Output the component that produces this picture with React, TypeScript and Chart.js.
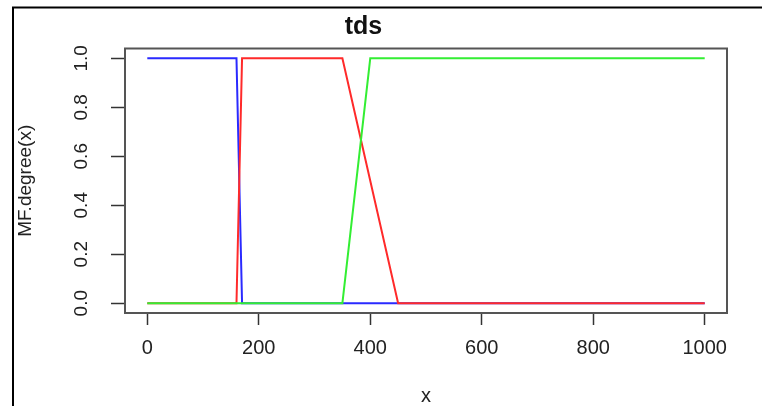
import React, { useEffect, useRef } from "react";
import { Chart, registerables } from "chart.js";

Chart.register(...registerables);

const titleText = "tds";
const xTitle = "x";
const yTitle = "MF.degree(x)";

const xTicks = [0, 200, 400, 600, 800, 1000];
const yTicks = [0, 0.2, 0.4, 0.6, 0.8, 1.0];

const blueX = [0, 160, 170, 1000];
const blueY = [1, 1, 0, 0];

const redX = [0, 160, 170, 350, 450, 1000];
const redY = [0, 0, 1, 1, 0, 0];

const greenX = [0, 350, 400, 1000];
const greenY = [0, 0, 1, 1];

const FONT = "'Liberation Sans', Arial, sans-serif";

const toPoints = (xs: number[], ys: number[]) => xs.map((x, i) => ({ x, y: ys[i] }));

const framePlugin = {
  id: "framePlugin",
  beforeDraw(chart: any) {
    const { ctx, width, height } = chart;
    ctx.save();
    ctx.fillStyle = "#ffffff";
    ctx.fillRect(0, 0, width, height);
    ctx.strokeStyle = "#000000";
    ctx.lineWidth = 2;
    ctx.beginPath();
    ctx.moveTo(13, height);
    ctx.lineTo(13, 7.5);
    ctx.lineTo(width, 7.5);
    ctx.stroke();
    ctx.restore();
  },
  afterDraw(chart: any) {
    const { ctx, chartArea } = chart;
    ctx.save();
    ctx.strokeStyle = "#555555";
    ctx.lineWidth = 2;
    ctx.strokeRect(chartArea.left, chartArea.top, chartArea.right - chartArea.left, chartArea.bottom - chartArea.top);
    ctx.restore();
  },
};

export default function App() {
  const canvasRef = useRef<HTMLCanvasElement | null>(null);

  useEffect(() => {
    if (!canvasRef.current) return;
    const chart = new Chart(canvasRef.current, {
      type: "line",
      data: {
        datasets: [
          {
            label: "green",
            data: toPoints(greenX, greenY),
            borderColor: "#33ee33",
            borderWidth: 2,
            pointRadius: 0,
            tension: 0,
            fill: false,
          },
          {
            label: "red",
            data: toPoints(redX, redY),
            borderColor: "#ff2a2a",
            borderWidth: 2,
            pointRadius: 0,
            tension: 0,
            fill: false,
          },
          {
            label: "blue",
            data: toPoints(blueX, blueY),
            borderColor: "#2a2aff",
            borderWidth: 2,
            pointRadius: 0,
            tension: 0,
            fill: false,
          },
        ],
      },
      options: {
        animation: false,
        responsive: false,
        maintainAspectRatio: false,
        layout: { padding: { left: 0, right: 35, top: 0, bottom: 0 } },
        plugins: {
          legend: { display: false },
          tooltip: { enabled: false },
          title: {
            display: true,
            text: titleText,
            color: "#111111",
            font: { family: FONT, size: 25, weight: "bold" },
            padding: { top: 12, bottom: 6.5 },
          },
        },
        scales: {
          x: {
            type: "linear",
            min: -40,
            max: 1040,
            afterBuildTicks: (scale: any) => {
              scale.ticks = xTicks.map((v) => ({ value: v }));
            },
            afterFit: (scale: any) => {
              scale.height = 93;
            },
            grid: {
              drawOnChartArea: false,
              drawTicks: true,
              tickLength: 12,
              tickColor: "#333333",
              tickWidth: 1.5,
            },
            border: { display: false },
            ticks: {
              color: "#222222",
              font: { family: FONT, size: 20 },
              padding: 11,
              maxRotation: 0,
              minRotation: 0,
              callback: (v: any) => String(v),
            },
            title: {
              display: true,
              text: xTitle,
              color: "#222222",
              font: { family: FONT, size: 20, lineHeight: 1 },
              padding: { top: 0, bottom: 0 },
            },
          },
          y: {
            type: "linear",
            min: -0.04,
            max: 1.04,
            afterBuildTicks: (scale: any) => {
              scale.ticks = yTicks.map((v) => ({ value: v }));
            },
            afterFit: (scale: any) => {
              scale.width = 125;
            },
            grid: {
              drawOnChartArea: false,
              drawTicks: true,
              tickLength: 14,
              tickColor: "#333333",
              tickWidth: 1.5,
            },
            border: { display: false },
            ticks: {
              color: "#222222",
              font: { family: FONT, size: 19 },
              padding: 16,
              minRotation: 90,
              maxRotation: 90,
              crossAlign: "center",
              callback: (v: any) => Number(v).toFixed(1),
            },
            title: {
              display: true,
              text: yTitle,
              color: "#222222",
              font: { family: FONT, size: 19 },
              padding: { top: 14, bottom: 0 },
            },
          },
        },
      },
      plugins: [framePlugin],
    } as any);
    return () => chart.destroy();
  }, []);

  return (
    <div style={{ position: "fixed", left: 0, top: 0, width: 762, height: 406 }}>
      <canvas ref={canvasRef} width={762} height={406} style={{ width: 762, height: 406 }} />
    </div>
  );
}
